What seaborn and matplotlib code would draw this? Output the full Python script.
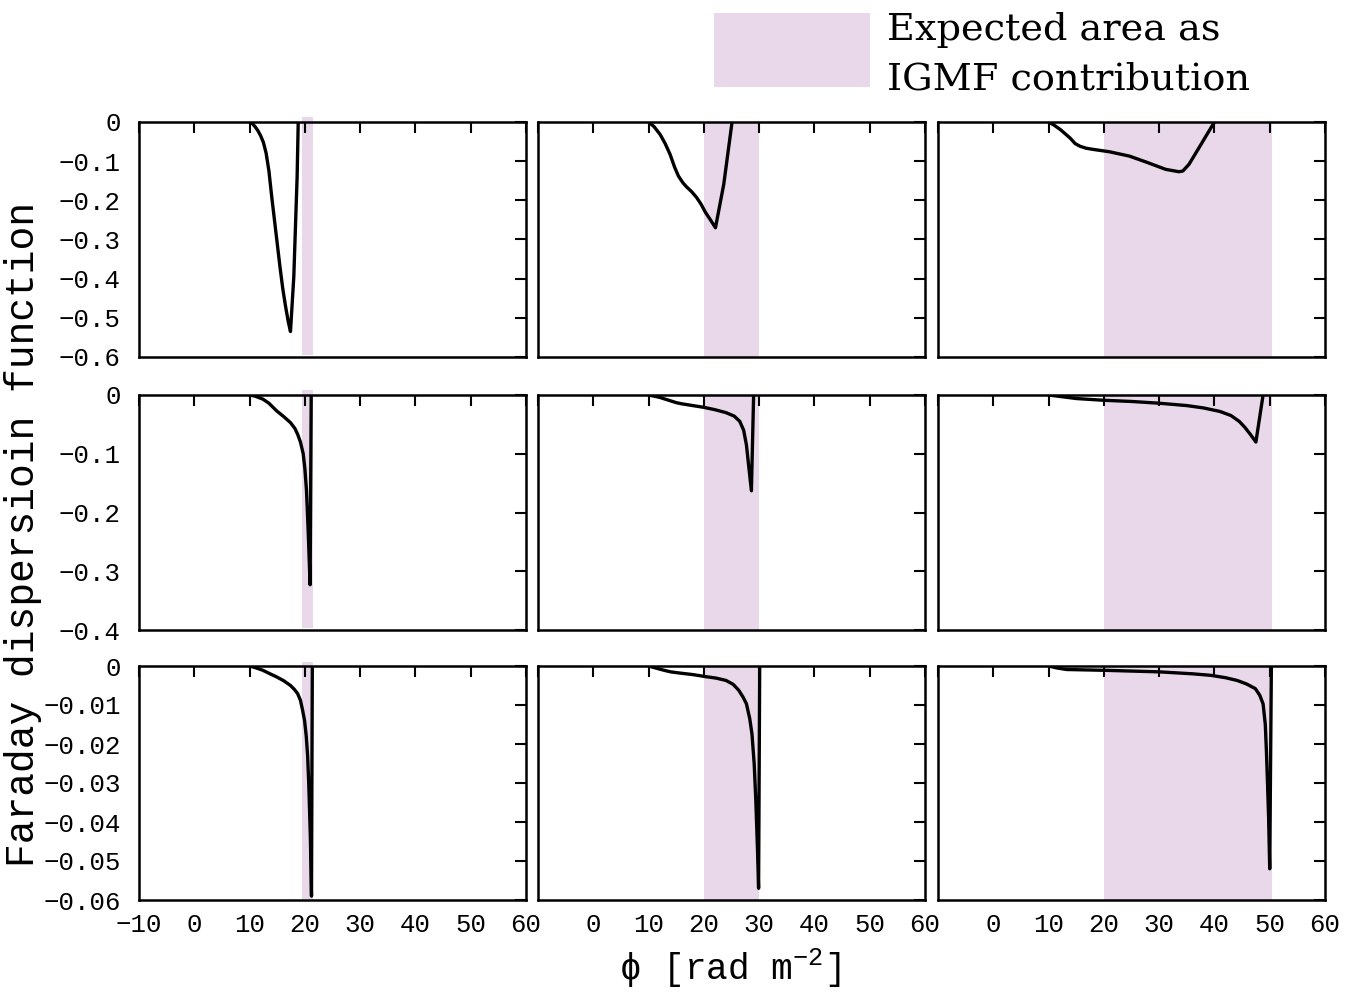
import numpy as np
import pandas as pd
import matplotlib
matplotlib.use("Agg")
import matplotlib.pyplot as plt
from matplotlib.patches import Rectangle
from matplotlib.ticker import FixedLocator, FixedFormatter
import seaborn as sns

# ---------------- data ----------------
# row 1
phi_r1c1 = [10.0, 10.5, 11.0, 11.5, 12.0, 12.5, 13.0, 13.5, 14.0, 14.5, 15.0, 15.5, 16.0, 16.5, 17.0, 17.4, 18.0, 18.6, 18.8]
val_r1c1 = [0.0, -0.004, -0.012, -0.022, -0.035, -0.052, -0.08, -0.125, -0.19, -0.25, -0.31, -0.37, -0.425, -0.47, -0.51, -0.535, -0.395, -0.14, 0.0]
phi_r1c2 = [10.0, 11.0, 12.1, 13.0, 13.9, 14.7, 15.4, 16.2, 16.9, 17.8, 18.7, 19.5, 20.3, 21.2, 22.1, 23.6, 25.1]
val_r1c2 = [0.0, -0.012, -0.032, -0.055, -0.083, -0.115, -0.138, -0.155, -0.166, -0.178, -0.193, -0.21, -0.231, -0.25, -0.27, -0.159, 0.0]
phi_r1c3 = [10.0, 11.0, 12.1, 13.0, 13.9, 14.8, 15.7, 16.8, 18.1, 21.0, 24.6, 27.6, 31.2, 33.6, 34.3, 35.4, 37.2, 40.0]
val_r1c3 = [0.0, -0.008, -0.019, -0.030, -0.041, -0.055, -0.062, -0.067, -0.070, -0.076, -0.087, -0.102, -0.121, -0.127, -0.125, -0.108, -0.066, 0.0]
# row 2
phi_r2c1 = [10.0, 11.0, 12.4, 13.5, 14.9, 16.2, 17.4, 18.2, 18.7, 19.2, 19.7, 20.0, 20.3, 20.6, 20.95, 21.15]
val_r2c1 = [0.0, -0.002, -0.007, -0.014, -0.027, -0.037, -0.047, -0.057, -0.067, -0.08, -0.10, -0.125, -0.163, -0.231, -0.323, 0.0]
phi_r2c2 = [10.0, 11.0, 12.0, 13.0, 14.0, 15.0, 16.0, 18.0, 20.0, 22.0, 24.0, 25.5, 26.5, 27.2, 27.7, 28.1, 28.6, 29.0]
val_r2c2 = [0.0, -0.002, -0.004, -0.007, -0.010, -0.013, -0.015, -0.018, -0.021, -0.025, -0.030, -0.036, -0.045, -0.060, -0.085, -0.12, -0.163, 0.0]
phi_r2c3 = [10.0, 15.0, 20.0, 25.0, 30.0, 35.0, 38.0, 41.0, 43.0, 44.5, 45.5, 46.5, 47.5, 48.8]
val_r2c3 = [0.0, -0.006, -0.009, -0.011, -0.014, -0.018, -0.022, -0.028, -0.035, -0.045, -0.055, -0.067, -0.08, 0.0]
# row 3
phi_r3c1 = [10.0, 11.0, 12.4, 13.7, 14.9, 16.2, 17.4, 18.1, 18.7, 19.2, 19.6, 19.95, 20.25, 20.5, 20.7, 21.0, 21.2, 21.35]
val_r3c1 = [0.0, -0.0004, -0.0011, -0.002, -0.0028, -0.0038, -0.005, -0.006, -0.0071, -0.0088, -0.0114, -0.014, -0.018, -0.023, -0.030, -0.044, -0.059, 0.0]
phi_r3c2 = [10.0, 11.5, 12.8, 14.0, 15.6, 18.0, 20.2, 22.2, 24.0, 25.3, 26.3, 27.1, 27.7, 28.3, 28.7, 29.1, 29.4, 29.7, 29.9, 30.1]
val_r3c2 = [0.0, -0.0006, -0.0011, -0.0015, -0.0018, -0.0022, -0.0027, -0.0031, -0.0037, -0.0047, -0.0062, -0.008, -0.0097, -0.0135, -0.0174, -0.025, -0.0345, -0.047, -0.057, 0.0]
phi_r3c3 = [10.0, 11.5, 13.3, 20.0, 30.0, 36.0, 39.4, 42.0, 44.1, 45.8, 47.4, 48.2, 48.8, 49.2, 49.4, 49.6, 49.8, 50.0, 50.3]
val_r3c3 = [0.0, -0.0005, -0.0009, -0.0011, -0.0015, -0.002, -0.0024, -0.003, -0.0037, -0.0046, -0.0058, -0.0075, -0.0097, -0.015, -0.0217, -0.030, -0.0388, -0.052, 0.0]

# expected IGMF areas per column
shade_lo = [19.5, 20.0, 20.0]
shade_hi = [21.5, 30.0, 50.5]

x_ticks = [-10, 0, 10, 20, 30, 40, 50, 60]
x_labels = ["−10", "0", "10", "20", "30", "40", "50", "60"]
row_ylim = [-0.6, -0.4, -0.06]
y_ticks_r1 = [0, -0.1, -0.2, -0.3, -0.4, -0.5, -0.6]
y_labels_r1 = ["0", "−0.1", "−0.2", "−0.3", "−0.4", "−0.5", "−0.6"]
y_ticks_r2 = [0, -0.1, -0.2, -0.3, -0.4]
y_labels_r2 = ["0", "−0.1", "−0.2", "−0.3", "−0.4"]
y_ticks_r3 = [0, -0.01, -0.02, -0.03, -0.04, -0.05, -0.06]
y_labels_r3 = ["0", "−0.01", "−0.02", "−0.03", "−0.04", "−0.05", "−0.06"]

legend_line1 = "Expected area as"
legend_line2 = "IGMF contribution"
ylabel_text = "Faraday dispersioin function"
xlabel_text = r"ϕ [rad m$^{\mathregular{-2}}$]"

# ---------------- style ----------------
sns.set_theme(style="white")
MONO = ["Liberation Mono", "DejaVu Sans Mono"]
plt.rcParams["font.family"] = MONO
plt.rcParams["mathtext.fontset"] = "custom"
plt.rcParams["mathtext.rm"] = "Liberation Mono"
plt.rcParams["axes.unicode_minus"] = True
plt.rcParams["text.color"] = "black"

SHADE = "#e9d8ea"
LW_FRAME = 1.8

fig = plt.figure(figsize=(13.63, 9.93), dpi=100)

col_left = [139 / 1363, 538 / 1363, 938 / 1363]
col_w = 387 / 1363
row_top = [122, 395, 666]
row_bot = [357, 630, 900]

series = [
    [(phi_r1c1, val_r1c1), (phi_r1c2, val_r1c2), (phi_r1c3, val_r1c3)],
    [(phi_r2c1, val_r2c1), (phi_r2c2, val_r2c2), (phi_r2c3, val_r2c3)],
    [(phi_r3c1, val_r3c1), (phi_r3c2, val_r3c2), (phi_r3c3, val_r3c3)],
]
yt = [(y_ticks_r1, y_labels_r1), (y_ticks_r2, y_labels_r2), (y_ticks_r3, y_labels_r3)]

for r in range(3):
    for c in range(3):
        b = 1 - row_bot[r] / 993
        h = (row_bot[r] - row_top[r]) / 993
        ax = fig.add_axes([col_left[c], b, col_w, h])
        if c == 0:
            ymin_f = 0.01 if r < 2 else 0.0
            ymax_f = 1.02 if r < 2 else 1.015
            ax.axvspan(shade_lo[c], shade_hi[c], ymin=ymin_f, ymax=ymax_f,
                       color=SHADE, lw=0, zorder=0, clip_on=False)
        else:
            ax.axvspan(shade_lo[c], shade_hi[c], color=SHADE, lw=0, zorder=0)
        px, pv = series[r][c]
        df = pd.DataFrame({"phi": px, "val": pv})
        sns.lineplot(data=df, x="phi", y="val", ax=ax, color="black",
                     lw=2.4, sort=False, estimator=None, zorder=3)
        ax.lines[-1].set_solid_joinstyle("round")
        ax.set_xlim(-10, 60)
        ax.set_ylim(row_ylim[r], 0)
        ax.set_xlabel("")
        ax.set_ylabel("")
        for s in ax.spines.values():
            s.set_linewidth(LW_FRAME)
            s.set_color("black")
            s.set_zorder(4)
        ax.xaxis.set_major_locator(FixedLocator(x_ticks))
        ax.yaxis.set_major_locator(FixedLocator(yt[r][0]))
        ax.tick_params(axis="both", which="major", direction="in", length=8,
                       width=1.5, color="black", top=True, right=True,
                       labelsize=18.5, labelcolor="black")
        ax.tick_params(axis="x", pad=9)
        ax.tick_params(axis="y", pad=13)
        if r == 2:
            labs = list(x_labels)
            if c > 0:
                labs[0] = ""
            ax.xaxis.set_major_formatter(FixedFormatter(labs))
        else:
            ax.set_xticklabels([])
        if c == 0:
            ax.yaxis.set_major_formatter(FixedFormatter(yt[r][1]))
        else:
            ax.set_yticklabels([])
        ax.set_facecolor("white")

# axis labels
fig.text(0.017, 0.462, ylabel_text, rotation=90, ha="center", va="center",
         fontsize=28.5, family=MONO, color="black")
fig.text(730 / 1363, 1 - 968 / 993, xlabel_text, ha="center", va="center",
         fontsize=26, family=MONO, color="black")

# legend
fig.patches.append(Rectangle((714 / 1363, 1 - 87 / 993), (870 - 714) / 1363,
                             (87 - 13) / 993, transform=fig.transFigure,
                             facecolor=SHADE, edgecolor="none"))
fig.text(887 / 1363, 1 - 40 / 993, legend_line1, ha="left",
         va="baseline", fontsize=27.5, family=["DejaVu Serif"], color="black")
fig.text(887 / 1363, 1 - 90 / 993, legend_line2, ha="left",
         va="baseline", fontsize=27.5, family=["DejaVu Serif"], color="black")

fig.savefig("out.png", dpi=100, facecolor="white")
